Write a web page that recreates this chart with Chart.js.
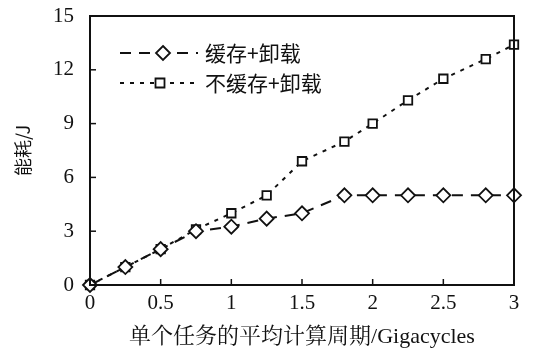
<!DOCTYPE html>
<html><head><meta charset="utf-8">
<script src="https://cdn.jsdelivr.net/npm/chart.js@4/dist/chart.umd.min.js"></script>
<style>html,body{margin:0;padding:0;background:#fff}#wrap{width:534px;height:360px}</style>
</head><body><div id="wrap"><canvas id="c" width="534" height="360"></canvas></div>
<script>
const xValues = [0, 0.25, 0.5, 0.75, 1, 1.25, 1.5, 1.8, 2, 2.25, 2.5, 2.8, 3];
const cacheOffload = [0, 1.0, 2.0, 3.0, 3.25, 3.7, 4.0, 5.0, 5.0, 5.0, 5.0, 5.0, 5.0];
const noCacheOffload = [0, 1.0, 2.0, 3.1, 4.0, 5.0, 6.9, 8.0, 9.0, 10.3, 11.5, 12.6, 13.4];
const seriesNames = ['缓存+卸载', '不缓存+卸载'];
const xTicks = [0, 0.5, 1, 1.5, 2, 2.5, 3];
const yTicks = [0, 3, 6, 9, 12, 15];
const xTitle = '单个任务的平均计算周期/Gigacycles';
const yTitle = '能耗/J';

const toPts = (ys) => xValues.map((x, i) => ({x: x, y: ys[i]}));

const serif = "'Liberation Serif', 'Noto Serif CJK SC', 'Noto Sans CJK SC', serif";
const cjk = "'Noto Sans CJK SC', sans-serif";

const framePlugin = {
  id: 'frame',
  afterDatasetsDraw(chart) {
    const {ctx, chartArea: a, scales} = chart;
    ctx.save();
    ctx.strokeStyle = '#111';
    ctx.lineWidth = 2;
    ctx.strokeRect(a.left, a.top, a.right - a.left, a.bottom - a.top);
    ctx.lineWidth = 1.5;
    const tl = 6;
    xTicks.forEach(v => {
      const px = scales.x.getPixelForValue(v);
      ctx.beginPath(); ctx.moveTo(px, a.bottom); ctx.lineTo(px, a.bottom - tl); ctx.stroke();
    });
    yTicks.forEach(v => {
      const py = scales.y.getPixelForValue(v);
      ctx.beginPath(); ctx.moveTo(a.left, py); ctx.lineTo(a.left + tl, py); ctx.stroke();
    });
    // legend
    const items = [
      {y: 53, ds: chart.data.datasets[0], cx: 163},
      {y: 83, ds: chart.data.datasets[1], cx: 160}
    ];
    items.forEach(it => {
      const ds = it.ds;
      ctx.strokeStyle = '#111';
      ctx.lineWidth = 2;
      ctx.setLineDash(ds.borderDash);
      ctx.beginPath(); ctx.moveTo(120, it.y); ctx.lineTo(198, it.y); ctx.stroke();
      ctx.setLineDash([]);
      ctx.fillStyle = '#fff';
      ctx.lineWidth = 1.8;
      const cx = it.cx, r = ds.pointRadius;
      if (ds.pointStyle === 'rectRot') {
        ctx.beginPath(); ctx.moveTo(cx, it.y - r); ctx.lineTo(cx + r, it.y); ctx.lineTo(cx, it.y + r); ctx.lineTo(cx - r, it.y); ctx.closePath();
      } else {
        ctx.beginPath(); ctx.rect(cx - r * 0.75, it.y - r * 0.75, r * 1.5, r * 1.5);
      }
      ctx.fill(); ctx.stroke();
      ctx.fillStyle = '#111';
      ctx.font = "21px " + cjk;
      ctx.textBaseline = 'middle';
      ctx.textAlign = 'left';
      ctx.fillText(ds.label, 205, it.y);
    });
    ctx.restore();
  }
};

new Chart(document.getElementById('c'), {
  type: 'scatter',
  data: {
    datasets: [
      {label: seriesNames[0], data: toPts(cacheOffload), showLine: true, borderColor: '#111', borderWidth: 2,
       borderDash: [11, 8], pointStyle: 'rectRot', pointRadius: 7, pointBorderWidth: 1.8,
       pointBackgroundColor: '#fff', pointBorderColor: '#111', clip: false},
      {label: seriesNames[1], data: toPts(noCacheOffload), showLine: true, borderColor: '#111', borderWidth: 2,
       borderDash: [4, 6], pointStyle: 'rect', pointRadius: 6, pointBorderWidth: 1.8,
       pointBackgroundColor: '#fff', pointBorderColor: '#111', clip: false}
    ]
  },
  options: {
    responsive: false,
    animation: false,
    events: [],
    layout: {padding: {left: 0, right: 20, top: 16, bottom: 0}},
    plugins: {legend: {display: false}, tooltip: {enabled: false}},
    scales: {
      x: {
        type: 'linear', min: 0, max: 3,
        afterBuildTicks: (s) => { s.ticks = xTicks.map(v => ({value: v})); },
        afterFit: (s) => { s.height = 75; s.paddingLeft = 0; s.paddingRight = 0; },
        grid: {display: false, drawTicks: false},
        border: {display: false},
        ticks: {color: '#111', font: {family: serif, size: 21}, padding: 6,
          callback: (v) => String(v)},
        title: {display: true, text: xTitle, color: '#111', font: {family: serif, size: 22}, padding: {top: 0, bottom: 10}}
      },
      y: {
        type: 'linear', min: 0, max: 15,
        afterBuildTicks: (s) => { s.ticks = yTicks.map(v => ({value: v})); },
        afterFit: (s) => { s.width = 90; s.paddingTop = 0; s.paddingBottom = 0; },
        grid: {display: false, drawTicks: false},
        border: {display: false},
        ticks: {color: '#111', font: {family: serif, size: 21}, padding: 16},
        title: {display: true, text: yTitle, color: '#111', font: {family: cjk, size: 18}, padding: {top: 12, bottom: 4}}
      }
    }
  },
  plugins: [framePlugin]
});
</script></body></html>
